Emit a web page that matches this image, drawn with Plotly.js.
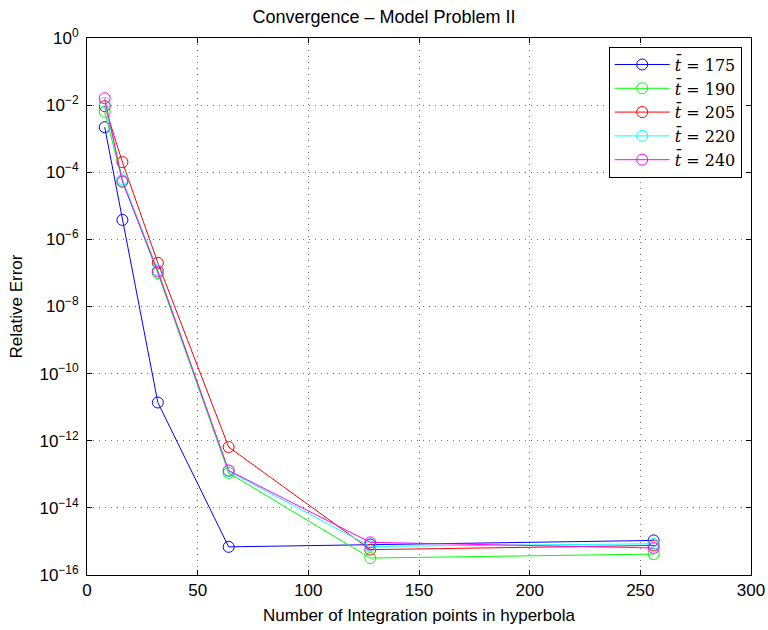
<!DOCTYPE html>
<html>
<head>
<meta charset="utf-8">
<script src="https://cdn.plot.ly/plotly-3.0.1.min.js"></script>
<style>html,body{margin:0;padding:0;background:#fff;} #chart{width:768px;height:630px;}</style>
</head>
<body>
<div id="chart"></div>
<script>
// Data
const nPoints = [8, 16, 32, 64, 128, 256];
const err175 = [2.2e-3, 3.8e-6, 1.38e-11, 6.9e-16, 8.1e-16, 1.07e-15];
const err190 = [6.3e-3, 5.5e-5, 9.8e-8, 1.1e-13, 3.2e-16, 4.2e-16];
const err205 = [9.3e-3, 2.0e-4, 2.0e-7, 6.5e-13, 5.7e-16, 7.6e-16];
const err220 = [1.17e-2, 6.1e-5, 1.2e-7, 1.25e-13, 7.1e-16, 8.5e-16];
const err240 = [1.6e-2, 5.2e-5, 1.1e-7, 1.3e-13, 9.4e-16, 6.4e-16];
const seriesLabels = ["175", "190", "205", "220", "240"];
const seriesColors = ["#0000ff", "#00ff00", "#ff0000", "#00ffff", "#ff00ff"];
const yTickVals = [1e0, 1e-2, 1e-4, 1e-6, 1e-8, 1e-10, 1e-12, 1e-14, 1e-16];
const yTickText = ["10<sup>0</sup>", "10<sup>\u22122</sup>", "10<sup>\u22124</sup>", "10<sup>\u22126</sup>", "10<sup>\u22128</sup>", "10<sup>\u221210</sup>", "10<sup>\u221212</sup>", "10<sup>\u221214</sup>", "10<sup>\u221216</sup>"];
const xTickVals = [0, 50, 100, 150, 200, 250, 300];

const allErr = [err175, err190, err205, err220, err240];
const traces = allErr.map((e, i) => ({
  x: nPoints,
  y: e,
  type: 'scatter',
  mode: 'lines+markers',
  name: '<i>t\u0304</i> = ' + seriesLabels[i],
  line: {color: seriesColors[i], width: 1},
  marker: {symbol: 'circle-open', size: 11, color: seriesColors[i], line: {width: 1, color: seriesColors[i]}}
}));

const axisFont = {family: 'Liberation Sans, Arial, sans-serif', size: 17, color: '#000'};
const layout = {
  width: 768, height: 630,
  margin: {l: 87, r: 17, t: 38, b: 55},
  paper_bgcolor: '#fff', plot_bgcolor: '#fff',
  title: {text: 'Convergence \u2013 Model Problem II', font: {family: 'Liberation Sans, Arial, sans-serif', size: 18, color: '#000'}, x: 0.5, xanchor: 'center', y: 1 - 17/630, yanchor: 'middle'},
  showlegend: true,
  legend: {
    x: 0.986, y: 0.984, xanchor: 'right', yanchor: 'top',
    bgcolor: '#fff', bordercolor: '#000', borderwidth: 1,
    font: {family: 'DejaVu Serif, Liberation Serif, serif', size: 16, color: '#000'},
    itemwidth: 55, tracegroupgap: 0
  },
  xaxis: {
    range: [0, 300], tickvals: xTickVals, ticks: 'inside', ticklen: 5, tickcolor: '#000',
    showline: true, linecolor: '#000', linewidth: 1, mirror: 'ticks',
    showgrid: true, gridcolor: 'rgba(0,0,0,0.55)', griddash: '1px,5px', gridwidth: 1,
    zeroline: false, tickfont: axisFont,
    title: {text: 'Number of Integration points in hyperbola', font: axisFont, standoff: 9}
  },
  yaxis: {
    type: 'log', range: [-16, 0], tickvals: yTickVals, ticktext: yTickText,
    ticks: 'inside', ticklen: 5, tickcolor: '#000', ticklabelstandoff: 4,
    showline: true, linecolor: '#000', linewidth: 1, mirror: 'ticks',
    showgrid: true, gridcolor: 'rgba(0,0,0,0.55)', griddash: '1px,5px', gridwidth: 1,
    zeroline: false, tickfont: axisFont,
    title: {text: 'Relative Error', font: axisFont, standoff: 12}
  }
};

Plotly.newPlot('chart', traces, layout, {displayModeBar: false, staticPlot: true});
</script>
</body>
</html>
